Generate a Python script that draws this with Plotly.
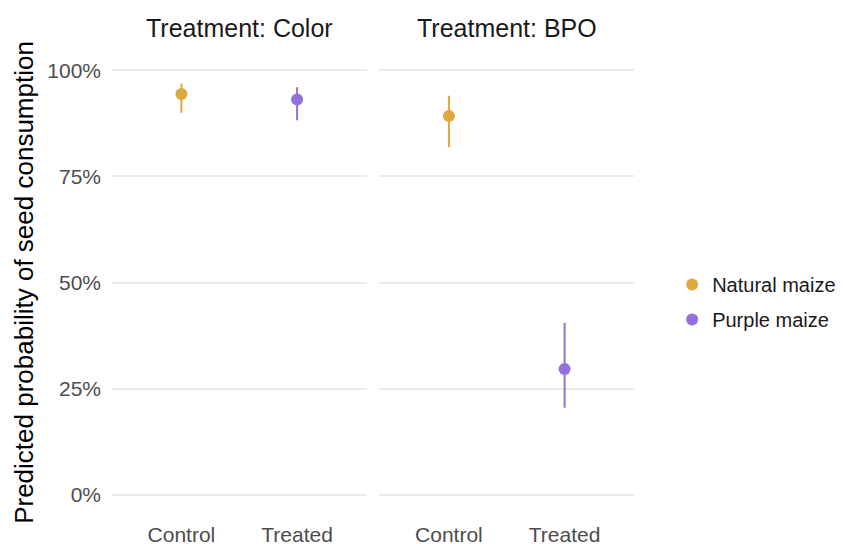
import plotly.graph_objects as go
from plotly.subplots import make_subplots

facets = ["Treatment: Color", "Treatment: BPO"]
categories = ["Control", "Treated"]
groups = ["Natural maize", "Purple maize"]
colors = ["#DDAA3B", "#9370DB"]

# estimates (%) and 95% interval per facet; Control=Natural maize, Treated=Purple maize
color_est = [94.4, 93.1]
color_lo = [90.0, 88.2]
color_hi = [96.9, 96.0]
bpo_est = [89.2, 29.6]
bpo_lo = [81.9, 20.5]
bpo_hi = [94.0, 40.5]

fig = make_subplots(rows=1, cols=2, shared_yaxes=True, horizontal_spacing=0.0249,
                    subplot_titles=facets)

for col, (est, lo, hi) in enumerate([(color_est, color_lo, color_hi),
                                      (bpo_est, bpo_lo, bpo_hi)], start=1):
    for i, g in enumerate(groups):
        fig.add_trace(go.Scatter(
            x=[categories[i]], y=[est[i] / 100],
            mode="markers",
            marker=dict(color=colors[i], size=12),
            error_y=dict(type="data", symmetric=False,
                         array=[(hi[i] - est[i]) / 100],
                         arrayminus=[(est[i] - lo[i]) / 100],
                         color=colors[i], thickness=2, width=0),
            name=g, legendgroup=g, showlegend=(col == 1),
        ), row=1, col=col)

for c in (1, 2):
    fig.update_xaxes(type="category", categoryorder="array", categoryarray=categories,
                     range=[-0.6, 1.6], showgrid=False, zeroline=False, showline=False,
                     ticks="", tickfont=dict(size=21, color="#4D4D4D"),
                     ticklabelstandoff=4,
                     automargin=False, row=1, col=c)
    fig.update_yaxes(range=[-0.05, 1.05], tickvals=[0, 0.25, 0.5, 0.75, 1.0],
                     ticktext=["0%", "25%", "50%", "75%", "100%"],
                     showgrid=True, gridcolor="#EBEBEB", gridwidth=1.5,
                     zeroline=False, showline=False, ticks="",
                     tickfont=dict(size=21, color="#4D4D4D"),
                     ticklabelstandoff=10,
                     automargin=False, row=1, col=c)

fig.update_yaxes(title=dict(text="Predicted probability of seed consumption",
                            font=dict(size=26, color="black"), standoff=6), row=1, col=1)

for ann in fig.layout.annotations:
    ann.font = dict(size=25, color="#1A1A1A")
    ann.yshift = 5

fig.update_layout(
    width=844, height=544,
    margin=dict(l=104, r=217, t=41, b=36),
    paper_bgcolor="white", plot_bgcolor="white",
    font=dict(family="Liberation Sans, Arial, sans-serif"),
    legend=dict(x=1.071, y=0.458, yanchor="middle", xanchor="left",
                font=dict(size=20, color="#1A1A1A"), tracegroupgap=6),
)

fig.write_html("out.html")
